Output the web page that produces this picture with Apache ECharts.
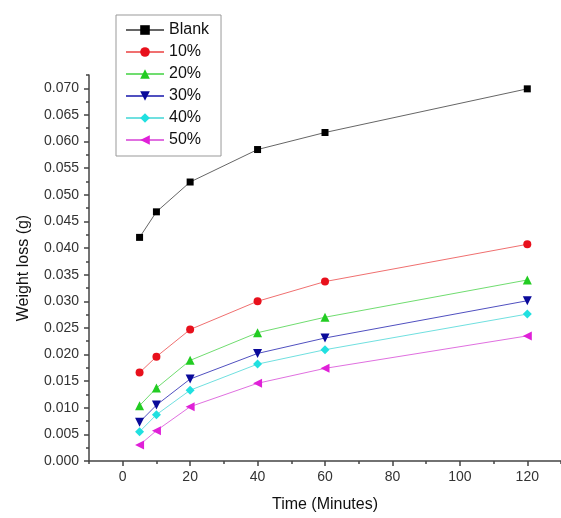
<!DOCTYPE html>
<html>
<head>
<meta charset="utf-8">
<script src="https://cdn.jsdelivr.net/npm/echarts@6/dist/echarts.min.js"></script>
<style>html,body{margin:0;padding:0;background:#fff;}#c{width:561px;height:518px;}</style>
</head>
<body>
<div id="c"></div>
<script>
const times = [5, 10, 20, 40, 60, 120];
const seriesNames = ['Blank', '10%', '20%', '30%', '40%', '50%'];
const blank = [0.0420, 0.0468, 0.0524, 0.0585, 0.0617, 0.0699];
const p10 = [0.0166, 0.0196, 0.0247, 0.0300, 0.0337, 0.0407];
const p20 = [0.0104, 0.0137, 0.0189, 0.0241, 0.0270, 0.0340];
const p30 = [0.0073, 0.0105, 0.0154, 0.0202, 0.0231, 0.0301];
const p40 = [0.0055, 0.0087, 0.0133, 0.0182, 0.0209, 0.0276];
const p50 = [0.0030, 0.0057, 0.0102, 0.0146, 0.0174, 0.0235];
const xMajorTicks = [0, 20, 40, 60, 80, 100, 120];
const xMinorTicks = [-10, 10, 30, 50, 70, 90, 110, 130];
const yMajorTicks = [0, 0.005, 0.010, 0.015, 0.020, 0.025, 0.030, 0.035, 0.040, 0.045, 0.050, 0.055, 0.060, 0.065, 0.070];
const yMinorTicks = [0.0025, 0.0075, 0.0125, 0.0175, 0.0225, 0.0275, 0.0325, 0.0375, 0.0425, 0.0475, 0.0525, 0.0575, 0.0625, 0.0675, 0.0725];

const allValues = [blank, p10, p20, p30, p40, p50];
const colors = ['#000000', '#e8101c', '#22cc22', '#0a0a9a', '#20e0e0', '#e020d8'];
const lineColors = ['#666666', '#f07070', '#70dd70', '#5050c0', '#70e0e0', '#e070e0'];
const symbols = ['rect', 'circle', 'triangle', 'triangle', 'diamond', 'triangle'];
const rotations = [0, 0, 0, 180, 0, 90];
const sizes = [7, 8, 9, 9, 9, 9];

const font = 'Arial, "Liberation Sans", sans-serif';
const axisColor = '#444';

const series = seriesNames.map((name, i) => ({
  name: name,
  type: 'line',
  xAxisIndex: 0,
  yAxisIndex: 0,
  data: times.map((t, j) => [t, allValues[i][j]]),
  symbol: symbols[i],
  symbolRotate: rotations[i],
  symbolSize: sizes[i],
  itemStyle: { color: colors[i] },
  lineStyle: { color: lineColors[i], width: 1 },
  emphasis: { disabled: true },
  animation: false
}));

const chart = echarts.init(document.getElementById('c'));
chart.setOption({
  animation: false,
  backgroundColor: '#fff',
  grid: { left: 89, right: 0, top: 75, bottom: 56, containLabel: false },
  legend: {
    orient: 'vertical',
    left: 116,
    top: 15,
    padding: [7, 12, 8, 9],
    itemWidth: 38,
    itemHeight: 12,
    itemGap: 6,
    borderColor: '#999',
    borderWidth: 1,
    backgroundColor: '#fff',
    textStyle: { fontSize: 16, color: '#111', fontFamily: font },
    data: seriesNames
  },
  xAxis: [{
    type: 'value', min: -10, max: 130,
    name: 'Time (Minutes)', nameLocation: 'middle', nameGap: 36,
    nameTextStyle: { fontSize: 16, color: '#111', fontFamily: font },
    axisLine: { show: true, onZero: false, lineStyle: { color: axisColor, width: 1.5 } },
    axisTick: { show: true, customValues: xMajorTicks, length: 5, lineStyle: { color: axisColor, width: 1.5 } },
    axisLabel: { customValues: xMajorTicks, fontSize: 14, color: '#333', fontFamily: font, margin: 9 },
    splitLine: { show: false }
  }, {
    type: 'value', min: -10, max: 130, position: 'bottom',
    axisLine: { show: false, onZero: false },
    axisTick: { show: true, customValues: xMinorTicks, length: 3, lineStyle: { color: axisColor, width: 1.5 } },
    axisLabel: { show: false },
    splitLine: { show: false }
  }],
  yAxis: [{
    type: 'value', min: 0, max: 0.0725,
    name: 'Weight loss (g)', nameLocation: 'middle', nameGap: 57,
    nameTextStyle: { fontSize: 16, color: '#111', fontFamily: font },
    axisLine: { show: true, onZero: false, lineStyle: { color: axisColor, width: 1.5 } },
    axisTick: { show: true, customValues: yMajorTicks, length: 5, lineStyle: { color: axisColor, width: 1.5 } },
    axisLabel: { customValues: yMajorTicks, fontSize: 14, color: '#333', fontFamily: font, margin: 10,
      formatter: v => v.toFixed(3) },
    splitLine: { show: false }
  }, {
    type: 'value', min: 0, max: 0.0725, position: 'left',
    axisLine: { show: false, onZero: false },
    axisTick: { show: true, customValues: yMinorTicks, length: 3, lineStyle: { color: axisColor, width: 1.5 } },
    axisLabel: { show: false },
    splitLine: { show: false }
  }],
  series: series
});
</script>
</body>
</html>
